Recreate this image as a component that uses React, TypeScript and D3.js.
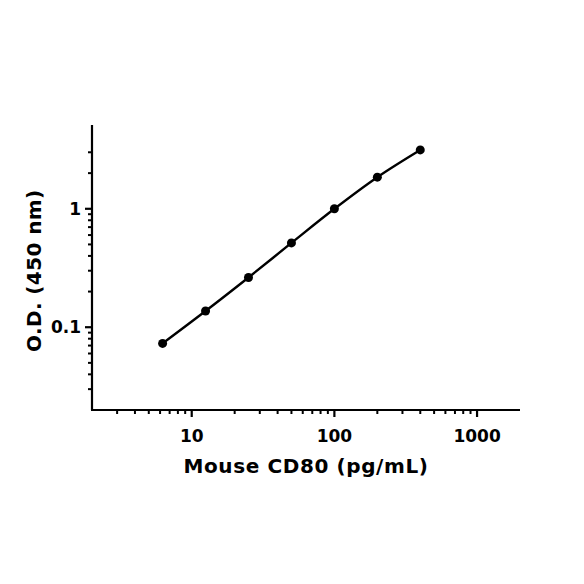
import * as d3 from 'd3';

// standard curve, mouse CD80 ELISA
const concentrations = [6.25, 12.5, 25, 50, 100, 200, 400];
const odValues = [0.073, 0.137, 0.263, 0.515, 1.0, 1.85, 3.14];

const xMajorTicks = [10, 100, 1000];
const xMinorTicks = [3, 4, 5, 6, 7, 8, 9, 20, 30, 40, 50, 60, 70, 80, 90, 200, 300, 400, 500, 600, 700, 800, 900];
const yMajorTicks = [0.1, 1];
const yMinorTicks = [0.03, 0.04, 0.05, 0.06, 0.07, 0.08, 0.09, 0.2, 0.3, 0.4, 0.5, 0.6, 0.7, 0.8, 0.9, 2, 3];

const xDomain = [2, 2000];
const yDomain = [0.02, 5];

const FONT = '"DejaVu Sans", sans-serif';

export default function App() {
  const width = 584;
  const height = 584;
  const margin = { top: 126, right: 64, bottom: 174, left: 92 };
  const innerW = width - margin.left - margin.right;
  const innerH = height - margin.top - margin.bottom;

  const x = d3.scaleLog().domain(xDomain).range([0, innerW]);
  const y = d3.scaleLog().domain(yDomain).range([innerH, 0]);

  const line = d3.line<number>()
    .x((_, i) => x(concentrations[i]))
    .y(d => y(d))
    .curve(d3.curveMonotoneX);

  return (
    <svg
      width={width}
      height={height}
      style={{ position: 'absolute', left: 0, top: 0, background: '#fff' }}
    >
      <g transform={`translate(${margin.left},${margin.top})`}>
        {/* axes */}
        <line x1={0} x2={0} y1={-1} y2={innerH} stroke="#000" strokeWidth={2.2} />
        <line x1={-1} x2={innerW} y1={innerH} y2={innerH} stroke="#000" strokeWidth={2.2} />

        {yMinorTicks.map(t => (
          <line key={`ym${t}`} x1={-4} x2={0} y1={y(t)} y2={y(t)} stroke="#000" strokeWidth={2} />
        ))}
        {yMajorTicks.map(t => (
          <g key={`yM${t}`} transform={`translate(0,${y(t)})`}>
            <line x1={-7} x2={0} stroke="#000" strokeWidth={2.2} />
            <text
              x={-11}
              dy="0.36em"
              textAnchor="end"
              fontFamily={FONT}
              fontWeight="bold"
              fontSize={17}
            >
              {t}
            </text>
          </g>
        ))}

        {xMinorTicks.map(t => (
          <line key={`xm${t}`} x1={x(t)} x2={x(t)} y1={innerH} y2={innerH + 4} stroke="#000" strokeWidth={2} />
        ))}
        {xMajorTicks.map(t => (
          <g key={`xM${t}`} transform={`translate(${x(t)},${innerH})`}>
            <line y1={0} y2={7} stroke="#000" strokeWidth={2.2} />
            <text
              y={32}
              textAnchor="middle"
              fontFamily={FONT}
              fontWeight="bold"
              fontSize={17}
            >
              {t}
            </text>
          </g>
        ))}

        {/* curve */}
        <path d={line(odValues) || ''} fill="none" stroke="#000" strokeWidth={2.4} />
        {odValues.map((v, i) => (
          <circle key={i} cx={x(concentrations[i])} cy={y(v)} r={4.5} fill="#000" />
        ))}

        {/* titles */}
        <text
          x={innerW / 2}
          y={innerH + 63}
          textAnchor="middle"
          fontFamily={FONT}
          fontWeight="bold"
          fontSize={20}
          letterSpacing={0.6}
        >
          Mouse CD80 (pg/mL)
        </text>
        <text
          transform={`translate(-51,${y(0.3)}) rotate(-90)`}
          textAnchor="middle"
          fontFamily={FONT}
          fontWeight="bold"
          fontSize={20}
          letterSpacing={0.4}
        >
          O.D. (450 nm)
        </text>
      </g>
    </svg>
  );
}
